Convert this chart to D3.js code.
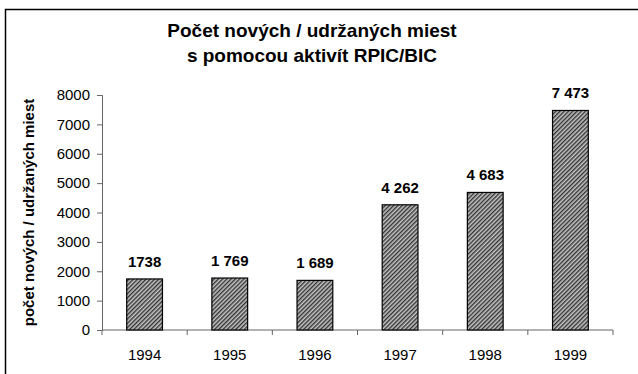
<!DOCTYPE html>
<html>
<head>
<meta charset="utf-8">
<script src="https://cdn.jsdelivr.net/npm/d3@7"></script>
<style>
  html, body { margin: 0; padding: 0; background: #fff; }
  svg text { font-family: "Liberation Sans", Arial, sans-serif; fill: #000; }
</style>
</head>
<body>
<svg id="chart" width="638" height="374"></svg>
<script>
// Rok a počet nových / udržaných pracovných miest
const years = ["1994", "1995", "1996", "1997", "1998", "1999"];
const jobs = [1738, 1769, 1689, 4262, 4683, 7473];
const valueLabels = ["1738", "1 769", "1 689", "4 262", "4 683", "7 473"];
const yTicks = [0, 1000, 2000, 3000, 4000, 5000, 6000, 7000, 8000];
const titleLines = ["Počet nových / udržaných miest", "s pomocou aktivít RPIC/BIC"];
const yAxisTitle = "počet nových / udržaných miest";

const svg = d3.select("#chart");
const margin = { left: 102, right: 25, top: 95, bottom: 44 };
const W = 638, H = 374;

// vonkajší rámik grafu
svg.append("path")
  .attr("d", "M5.5,374 V9.5 H638")
  .attr("fill", "none")
  .attr("stroke", "#000")
  .attr("stroke-width", 1.5);

// šrafovanie stĺpcov
const defs = svg.append("defs");
const pat = defs.append("pattern")
  .attr("id", "hatch")
  .attr("patternUnits", "userSpaceOnUse")
  .attr("width", 3).attr("height", 3)
  .attr("patternTransform", "rotate(45)");
pat.append("rect").attr("width", 3).attr("height", 3).attr("fill", "#c4c4c4");
pat.append("rect").attr("width", 1.4).attr("height", 3).attr("fill", "#333");

const x = d3.scaleBand()
  .domain(years)
  .range([margin.left, W - margin.right])
  .paddingInner(0.58)
  .paddingOuter(0.29);

const y = d3.scaleLinear()
  .domain([0, 8000])
  .range([H - margin.bottom, margin.top]);

// nadpis
const title = svg.append("g");
titleLines.forEach((t, i) => {
  title.append("text")
    .attr("x", 312)
    .attr("y", 37 + i * 25)
    .attr("text-anchor", "middle")
    .attr("font-size", 19)
    .attr("font-weight", "bold")
    .text(t);
});

// os Y
const yAxis = svg.append("g")
  .attr("transform", `translate(${margin.left},0)`)
  .call(d3.axisLeft(y).tickValues(yTicks).tickSize(5).tickPadding(7).tickFormat(d3.format("d")));
yAxis.select(".domain").attr("stroke", "#666").attr("stroke-width", 1);
yAxis.selectAll(".tick line").attr("stroke", "#666");
yAxis.selectAll(".tick text")
  .attr("font-size", 15)
  .attr("font-family", "Liberation Sans, Arial, sans-serif")
  .attr("fill", "#000");

// os X – značky na hraniciach kategórií
const step = x.step();
const xAxisG = svg.append("g").attr("transform", `translate(0,${y(0)})`);
xAxisG.append("line")
  .attr("x1", margin.left).attr("x2", W - margin.right)
  .attr("stroke", "#666").attr("stroke-width", 1);
const bounds = d3.range(years.length + 1).map(i => x(years[0]) - x.paddingOuter() * step + i * step);
xAxisG.selectAll(".xtick").data(bounds).join("line")
  .attr("x1", d => d).attr("x2", d => d)
  .attr("y1", 0).attr("y2", 5)
  .attr("stroke", "#666");
xAxisG.selectAll(".xlab").data(years).join("text")
  .attr("x", d => x(d) + x.bandwidth() / 2)
  .attr("y", 30)
  .attr("text-anchor", "middle")
  .attr("font-size", 15)
  .text(d => d);

// stĺpce
svg.append("g").selectAll("rect").data(jobs).join("rect")
  .attr("x", (d, i) => x(years[i]))
  .attr("y", d => y(d))
  .attr("width", x.bandwidth())
  .attr("height", d => y(0) - y(d))
  .attr("fill", "url(#hatch)")
  .attr("stroke", "#000")
  .attr("stroke-width", 1.2);

// hodnoty nad stĺpcami
svg.append("g").selectAll("text").data(jobs).join("text")
  .attr("x", (d, i) => x(years[i]) + x.bandwidth() / 2)
  .attr("y", d => y(d) - 12)
  .attr("text-anchor", "middle")
  .attr("font-size", 15)
  .attr("font-weight", "bold")
  .text((d, i) => valueLabels[i]);

// popis osi Y
svg.append("text")
  .attr("transform", `translate(34,${(y(0) + y(8000)) / 2}) rotate(-90)`)
  .attr("text-anchor", "middle")
  .attr("font-size", 15)
  .attr("font-weight", "bold")
  .text(yAxisTitle);
</script>
</body>
</html>
